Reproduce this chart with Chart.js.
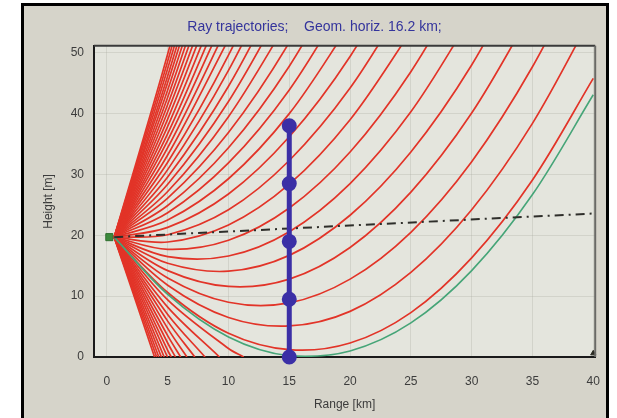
<!DOCTYPE html>
<html>
<head>
<meta charset="utf-8">
<script src="https://cdn.jsdelivr.net/npm/chart.js@4.4.1/dist/chart.umd.min.js"></script>
<style>
    html, body { margin: 0; padding: 0; background: #ffffff; }
    #wrap { width: 617px; height: 418px; }
</style>
</head>
<body>
<div id="wrap"><canvas id="rayChart" width="617" height="418" style="width:617px;height:418px"></canvas></div>
<script>
// Ranges (km) at which ray heights were read
const rangeSteps = [0.6, 5, 10, 15, 20, 25, 30, 35, 40];

// Rays leaving through the top or right edge: heights (m) at rangeSteps
const skyRays = [
    [19.7, 49.8, 87.7],
    [19.7, 48.6, 85.2],
    [19.7, 47.4, 82.6],
    [19.7, 46.2, 80.1],
    [19.7, 45.1, 77.5],
    [19.7, 43.9, 75.0],
    [19.7, 42.7, 72.5],
    [19.7, 41.5, 69.9],
    [19.7, 40.3, 67.4],
    [19.7, 39.1, 64.9],
    [19.7, 37.9, 62.3],
    [19.7, 36.7, 59.8],
    [19.7, 35.6, 57.2],
    [19.7, 34.4, 54.7],
    [19.7, 33.2, 52.2],
    [19.7, 32.0, 49.6, 71.2],
    [19.7, 30.8, 47.1, 67.3],
    [19.7, 29.6, 44.5, 63.4],
    [19.7, 28.4, 42.0, 59.5],
    [19.7, 27.2, 39.5, 55.6],
    [19.7, 26.1, 36.9, 51.7, 70.4],
    [19.7, 24.9, 34.4, 47.8, 65.2],
    [19.7, 23.7, 31.9, 43.9, 59.9],
    [19.7, 22.5, 29.3, 40.0, 54.7],
    [19.7, 21.3, 26.8, 36.2, 49.4, 66.6],
    [19.7, 20.1, 24.2, 32.3, 44.2, 60.0],
    [19.7, 18.9, 21.7, 28.4, 39.0, 53.5],
    [19.7, 17.7, 19.2, 24.5, 33.7, 46.9, 63.9],
    [19.7, 16.5, 16.6, 20.6, 28.5, 40.3, 56.0],
    [19.7, 15.4, 14.1, 16.7, 23.3, 33.7, 48.0, 66.3],
    [19.7, 14.2, 11.6, 12.8, 18.0, 27.1, 40.1, 57.0],
    [19.7, 13.0, 9.0, 8.9, 12.8, 20.5, 32.1, 47.7, 67.1],
    [19.7, 11.8, 6.5, 5.1, 7.5, 13.9, 24.2, 38.4, 56.5],
    [19.7, 10.6, 3.9, 1.2, 2.3, 7.3, 16.3, 29.1, 45.8]
];

// Rays that end on the ground: heights at rangeSteps, then the range where they hit
const groundRayHeights = [
    [19.7, 9.4, 1.4],
    [19.7, 8.2],
    [19.7, 7.0],
    [19.7, 5.9],
    [19.7, 4.7],
    [19.7, 3.5],
    [19.7, 2.3],
    [19.7, 1.1],
    [19.7],
    [19.7],
    [19.7],
    [19.7],
    [19.7],
    [19.7]
];
const groundRayHits = [11.25, 9.26, 8.07, 7.23, 6.58, 6.07, 5.64, 5.29, 4.98, 4.71, 4.48, 4.27, 4.09, 3.92];

// Tangent ray (green) heights at rangeSteps
const tangentRay = [19.7, 10.3, 3.3, 0.2, 1.0, 5.6, 14.2, 26.7, 43.1];

// Receiver mast at 15 km
const receiverRange = 15;
const receiverHeights = [0, 9.5, 19, 28.5, 38];

// Dash-dot reference line
const refLineX = [0.6, 40.16];
const refLineY = [19.7, 23.6];

// Source antenna and far-end marker
const sourceX = 0.2;
const sourceY = 19.7;
const endMarkX = 40;
const endMarkY = 0.6;

const xTicks = [0, 5, 10, 15, 20, 25, 30, 35, 40];
const yTicks = [0, 10, 20, 30, 40, 50];

const titleText = 'Ray trajectories;    Geom. horiz. 16.2 km;';

const fontFamily = 'Liberation Sans, Arial, sans-serif';
const rayColor = 'rgb(226, 52, 40)';
const rayStyle = {
    borderColor: rayColor,
    borderWidth: 1.7,
    pointRadius: 0,
    tension: 0.333,
    fill: false,
    clip: 0,
    order: 5
};

const datasets = [];

skyRays.forEach(hs => {
    datasets.push(Object.assign({
        data: hs.map((h, i) => ({ x: rangeSteps[i], y: h }))
    }, rayStyle));
});

groundRayHeights.forEach((hs, k) => {
    const pts = hs.map((h, i) => ({ x: rangeSteps[i], y: h }));
    pts.push({ x: groundRayHits[k], y: 0 });
    datasets.push(Object.assign({ data: pts }, rayStyle));
});

datasets.push({
    data: tangentRay.map((h, i) => ({ x: rangeSteps[i], y: h })),
    borderColor: 'rgb(70, 165, 120)',
    borderWidth: 1.6,
    pointRadius: 0,
    tension: 0.333,
    clip: 0,
    order: 3
});

datasets.push({
    data: refLineX.map((x, i) => ({ x: x, y: refLineY[i] })),
    borderColor: '#2e2e2a',
    borderWidth: 2,
    borderDash: [9, 5, 2, 5],
    pointRadius: 0,
    clip: 0,
    order: 2
});

datasets.push({
    data: receiverHeights.map(h => ({ x: receiverRange, y: h })),
    borderColor: '#3b2fa6',
    borderWidth: 5,
    pointRadius: 5,
    pointBackgroundColor: '#3b2fa6',
    pointBorderColor: '#3b2fa6',
    clip: false,
    order: 0
});

datasets.push({
    data: [{ x: sourceX, y: sourceY }],
    showLine: false,
    pointStyle: 'rect',
    pointRadius: 5,
    pointBackgroundColor: '#3c8a3c',
    pointBorderColor: '#2f6f2f',
    clip: false,
    order: 1
});

datasets.push({
    data: [{ x: endMarkX, y: endMarkY }],
    showLine: false,
    pointStyle: 'triangle',
    pointRadius: 3,
    pointBackgroundColor: '#2a2a22',
    pointBorderColor: '#2a2a22',
    clip: false,
    order: 1
});

// Panel background, frame and plot box
const panelPlugin = {
    id: 'panel',
    beforeDraw(chart) {
        const { ctx, chartArea: a } = chart;
        ctx.save();
        ctx.fillStyle = '#ffffff';
        ctx.fillRect(0, 0, chart.width, chart.height);
        ctx.fillStyle = '#d6d4ca';
        ctx.fillRect(23, 5, 585, 413);
        ctx.strokeStyle = '#000000';
        ctx.lineWidth = 3;
        ctx.beginPath();
        ctx.moveTo(22.5, 418);
        ctx.lineTo(22.5, 4.5);
        ctx.lineTo(607.5, 4.5);
        ctx.lineTo(607.5, 418);
        ctx.stroke();
        ctx.fillStyle = '#e4e5dd';
        ctx.fillRect(a.left, a.top, a.width, a.height);
        ctx.restore();
    },
    afterDraw(chart) {
        const { ctx, chartArea: a } = chart;
        ctx.save();
        ctx.strokeStyle = '#3a3a3a';
        ctx.lineWidth = 2;
        ctx.beginPath();
        ctx.moveTo(a.left, a.top);
        ctx.lineTo(a.right, a.top);
        ctx.stroke();
        ctx.strokeStyle = '#6a6a66';
        ctx.beginPath();
        ctx.moveTo(a.right, a.top);
        ctx.lineTo(a.right, a.bottom);
        ctx.stroke();
        ctx.restore();
    }
};

const ctx = document.getElementById('rayChart').getContext('2d');

new Chart(ctx, {
    type: 'line',
    data: { datasets: datasets },
    options: {
        responsive: false,
        animation: false,
        events: [],
        layout: {
            padding: { left: 30, right: 18, top: 10, bottom: 0 }
        },
        plugins: {
            legend: { display: false },
            tooltip: { enabled: false },
            title: {
                display: true,
                text: titleText,
                color: '#34349c',
                font: { family: fontFamily, size: 14, weight: 'normal' },
                padding: { top: 9, bottom: 10 }
            }
        },
        scales: {
            x: {
                type: 'linear',
                min: -1.06,
                max: 40.16,
                afterFit: s => { s.height = 61; },
                afterBuildTicks: s => { s.ticks = xTicks.map(v => ({ value: v })); },
                ticks: {
                    includeBounds: false,
                    padding: 17,
                    color: '#3c3c3c',
                    font: { family: fontFamily, size: 12 }
                },
                grid: {
                    color: 'rgba(170, 170, 160, 0.3)',
                    drawTicks: false
                },
                border: { display: true, color: '#1a1a1a', width: 2 },
                title: {
                    display: true,
                    text: 'Range [km]',
                    color: '#3c3c3c',
                    font: { family: fontFamily, size: 12 },
                    padding: { top: 0, bottom: 6 }
                }
            },
            y: {
                type: 'linear',
                min: 0,
                max: 51.15,
                afterFit: s => { s.width = 64; },
                afterBuildTicks: s => { s.ticks = yTicks.map(v => ({ value: v })); },
                ticks: {
                    includeBounds: false,
                    padding: 10,
                    color: '#3c3c3c',
                    font: { family: fontFamily, size: 12 }
                },
                grid: {
                    color: 'rgba(170, 170, 160, 0.3)',
                    drawTicks: false
                },
                border: { display: true, color: '#1a1a1a', width: 2 },
                title: {
                    display: true,
                    text: 'Height [m]',
                    color: '#3c3c3c',
                    font: { family: fontFamily, size: 12 },
                    padding: { top: 11, bottom: 0 }
                }
            }
        }
    },
    plugins: [panelPlugin]
});
</script>
</body>
</html>
